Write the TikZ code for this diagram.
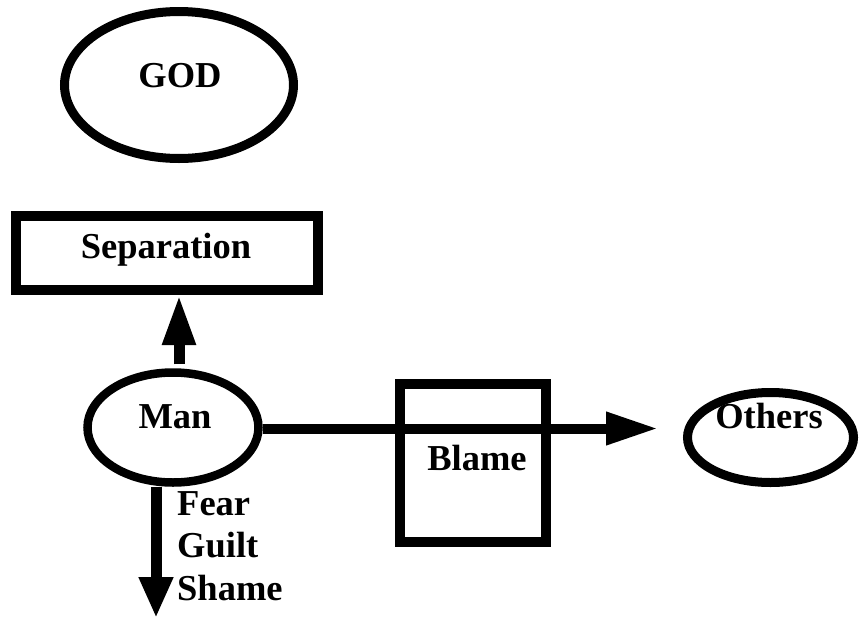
\documentclass[tikz,border=0pt]{standalone}
\usepackage{fontspec}
\setmainfont{Liberation Serif}
\usetikzlibrary{shapes.geometric,arrows.meta}
\begin{document}
\begin{tikzpicture}[x=1pt,y=-1pt,
  lbl/.style={font=\fontsize{36.5}{42}\selectfont\bfseries, inner sep=0pt, anchor=base},
  oval/.style={draw, ellipse, inner sep=0pt, line width=9pt},
  boxx/.style={draw, rectangle, inner sep=0pt, line width=10pt},
  arr/.style={line width=11pt, -{Triangle[width=31pt,length=50pt]}}
]
\useasboundingbox (0,0) rectangle (859,627);
% GOD
\node[oval, minimum width=229pt, minimum height=147pt] (god) at (179,85) {};
\node[lbl] (godt) at (180,87) {GOD};
% Separation
\node[boxx, minimum width=302pt, minimum height=74pt] (sep) at (167,253) {};
\node[lbl] (sept) at (166,258) {Separation};
% Man
\node[oval, line width=8.5pt, minimum width=171pt, minimum height=110pt] (man) at (173,427.5) {};
\node[lbl] (mant) at (175,428) {Man};
% Blame
\node[boxx, minimum width=146pt, minimum height=158pt] (blame) at (473,463) {};
\node[lbl] (blamet) at (477,470) {Blame};
% Others
\node[oval, minimum width=166pt, minimum height=90pt] (others) at (770.5,437.5) {};
\node[lbl] (otherst) at (769,428) {Others};
% Connectors
\draw[arr] ([xshift=6pt,yshift=4pt]man.north) -- ([xshift=12pt]sep.south);
\draw[line width=10pt, -{Triangle[width=31pt,length=52pt]}] (man.east |- 0,428.5) -- ([xshift=-25pt]others.west |- 0,428.5);
\coordinate (down) at (156,618);
\draw[line width=11pt, -{Triangle[width=32pt,length=41pt]}] ([xshift=-17pt]man.south) -- (down);
% Labels
\node[lbl, anchor=base west] (fear) at (177,515) {Fear};
\node[lbl, anchor=base west] (guilt) at (177,557) {Guilt};
\node[lbl, anchor=base west] (shame) at (177,600) {Shame};
\end{tikzpicture}
\end{document}
